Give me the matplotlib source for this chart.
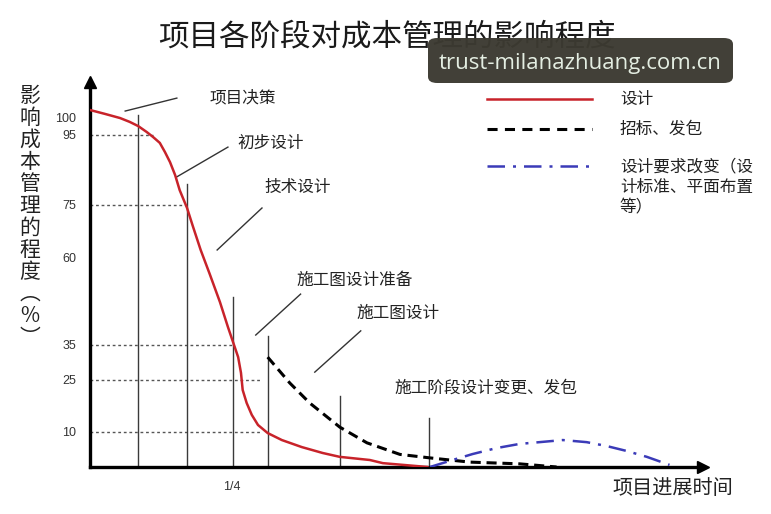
import matplotlib
matplotlib.use("Agg")
import matplotlib.pyplot as plt
from matplotlib.patches import FancyBboxPatch

plt.rcParams['font.family'] = ['Noto Sans CJK SC', 'DejaVu Sans']

# ---------------- data ----------------
title = "项目各阶段对成本管理的影响程度"
ylabel_text = "影响成本管理的程度（%）"
xlabel_text = "项目进展时间"
watermark = "trust-milanazhuang.com.cn"

ytick_values = [100, 95, 75, 60, 35, 25, 10]
ytick_labels = ["100", "95", "75", "60", "35", "25", "10"]
xtick_values = [0.25]
xtick_labels = ["1/4"]

# design curve (red)
design_x = [0.000, 0.026, 0.053, 0.070, 0.085, 0.100, 0.111, 0.123, 0.132, 0.141,
            0.150, 0.158, 0.171, 0.181, 0.195, 0.211, 0.229, 0.243, 0.252, 0.261,
            0.266, 0.269, 0.276, 0.285, 0.296, 0.313, 0.338, 0.373, 0.410, 0.440,
            0.493, 0.516, 0.595]
design_y = [102.0, 100.9, 99.7, 98.6, 97.4, 95.7, 94.3, 92.6, 90.0, 87.1,
            83.4, 79.1, 74.0, 68.9, 62.0, 55.1, 47.1, 40.0, 35.7, 31.4,
            26.9, 22.0, 18.3, 14.9, 12.0, 9.7, 7.7, 5.7, 4.0, 2.9,
            2.0, 1.1, 0.0]

# tendering / contracting curve (black dashed)
tender_x = [0.313, 0.352, 0.387, 0.440, 0.488, 0.546, 0.599, 0.669, 0.757, 0.822]
tender_y = [31.4, 24.0, 18.3, 11.4, 6.9, 3.6, 2.6, 1.4, 0.9, 0.0]

# design requirement change curve (blue dash-dot)
change_x = [0.599, 0.639, 0.674, 0.716, 0.757, 0.792, 0.833, 0.875, 0.910, 0.945, 0.981, 1.021]
change_y = [0.0, 2.0, 3.7, 5.4, 6.6, 7.1, 7.7, 7.1, 6.0, 4.6, 2.9, 0.6]

# reference levels (dotted) and where they end
ref_levels = [95, 75, 35, 25, 10]
ref_ends = [0.111, 0.167, 0.252, 0.303, 0.303]

# stage boundary lines
stage_x = [0.0845, 0.171, 0.252, 0.313, 0.440, 0.597]
stage_top = [100.6, 81.0, 48.6, 37.4, 20.3, 14.0]

# stage labels
stage_labels = ["项目决策", "初步设计", "技术设计", "施工图设计准备", "施工图设计", "施工阶段设计变更、发包"]
stage_label_x = [0.211, 0.259, 0.308, 0.364, 0.470, 0.537]
stage_label_y = [105.4, 92.6, 80.0, 53.4, 44.0, 22.6]
leader_x0 = [0.062, 0.153, 0.224, 0.292, 0.396]
leader_y0 = [101.7, 82.9, 62.0, 37.7, 27.1]
leader_x1 = [0.153, 0.243, 0.303, 0.371, 0.477]
leader_y1 = [105.4, 91.4, 74.0, 49.4, 38.9]

legend_labels = ["设计", "招标、发包", "设计要求改变（设\n计标准、平面布置\n等）"]

# ---------------- figure ----------------
W, H = 771, 514
fig = plt.figure(figsize=(W / 100, H / 100), dpi=100)
fig.patch.set_facecolor("white")
ax = fig.add_axes([90 / W, (H - 467) / H, 613 / W, 385 / H])
ax.set_xlim(0, 1.08)
ax.set_ylim(0, 110)

RED = "#c8232a"
BLUE = "#3b3bb8"

for lvl, xe in zip(ref_levels, ref_ends):
    ax.plot([0, xe], [lvl, lvl], color="#555555", lw=1.0, ls=(0, (2, 2)), zorder=1)

for sx, st in zip(stage_x, stage_top):
    ax.plot([sx, sx], [0, st], color="#3a3a3a", lw=1.0, zorder=2)

ax.plot(design_x, design_y, color=RED, lw=1.8, zorder=4,
        solid_joinstyle="round", solid_capstyle="round")
ax.plot(tender_x, tender_y, color="black", lw=2.2, ls=(0, (3.3, 1.9)), zorder=3)
ax.plot(change_x, change_y, color=BLUE, lw=1.8, ls=(0, (7, 3.2, 1.2, 3.2)), zorder=3)

for x0, y0, x1, y1 in zip(leader_x0, leader_y0, leader_x1, leader_y1):
    ax.plot([x0, x1], [y0, y1], color="#333333", lw=1.0)

for lab, lx, ly in zip(stage_labels, stage_label_x, stage_label_y):
    ax.text(lx, ly, lab, fontsize=12, ha="left", va="center", color="#222222")

# axes
for s in ["top", "right"]:
    ax.spines[s].set_visible(False)
for s in ["left", "bottom"]:
    ax.spines[s].set_linewidth(2.4)
    ax.spines[s].set_color("black")
ax.plot(1, 0, ">", color="black", markersize=8, transform=ax.transAxes, clip_on=False)
ax.plot(0, 1, "^", color="black", markersize=8, transform=ax.transAxes, clip_on=False)

ax.set_yticks(ytick_values)
ax.set_yticklabels(ytick_labels, fontfamily="Liberation Sans", fontsize=9, color="#333333")
ax.set_xticks(xtick_values)
ax.set_xticklabels(xtick_labels, fontfamily="Liberation Sans", fontsize=9, color="#333333")
ax.tick_params(axis="y", length=0, pad=10)
ax.tick_params(axis="x", length=0, pad=10)

ax.set_xlabel(xlabel_text, fontsize=14.5, color="#222222")
ax.xaxis.set_label_coords((673 - 90) / 613, (467 - 488) / 385)
ax.xaxis.label.set_va("center")

vert = "\n".join(ylabel_text.replace("（", "︵").replace("）", "︶"))
ax.set_ylabel(vert, rotation=0, fontsize=15, color="#222222", linespacing=1.0)
ax.yaxis.set_label_coords((30 - 90) / 613, (467 - 217) / 385)
ax.yaxis.label.set_va("center")
ax.yaxis.label.set_ha("center")

# legend (manual)
leg_styles = [dict(color=RED, lw=1.8, ls="-"),
              dict(color="black", lw=2.2, ls=(0, (3.3, 2.4))),
              dict(color=BLUE, lw=1.8, ls=(0, (7, 3.2, 1.2, 3.2)))]
leg_y = [99, 129, 166]
for lab, st, yy in zip(legend_labels, leg_styles, leg_y):
    fy = (H - yy) / H
    fig.add_artist(plt.Line2D([487 / W, 592 / W], [fy, fy], transform=fig.transFigure, **st))
    if "\n" in lab:
        fig.text(620 / W, (H - yy + 8) / H, lab, fontsize=12, ha="left", va="top",
                 color="#222222", linespacing=1.28)
    else:
        fig.text(620 / W, fy, lab, fontsize=12, ha="left", va="center", color="#222222")

# title
fig.text(387 / W, (H - 37) / H, title, fontsize=22,
         ha="center", va="center", color="#1a1a1a")

# watermark
box = FancyBboxPatch((428 / W, (H - 83) / H), 305 / W, 45 / H,
                     boxstyle="round,pad=0,rounding_size=0.012",
                     transform=fig.transFigure, facecolor="#3c3a31", edgecolor="none",
                     alpha=0.97, zorder=10)
fig.add_artist(box)
fig.text(580 / W, (H - 63) / H, watermark, fontsize=16, fontfamily="Open Sans",
         ha="center", va="center", color="#e4eee2", zorder=11)

fig.savefig("out.png", dpi=100)
